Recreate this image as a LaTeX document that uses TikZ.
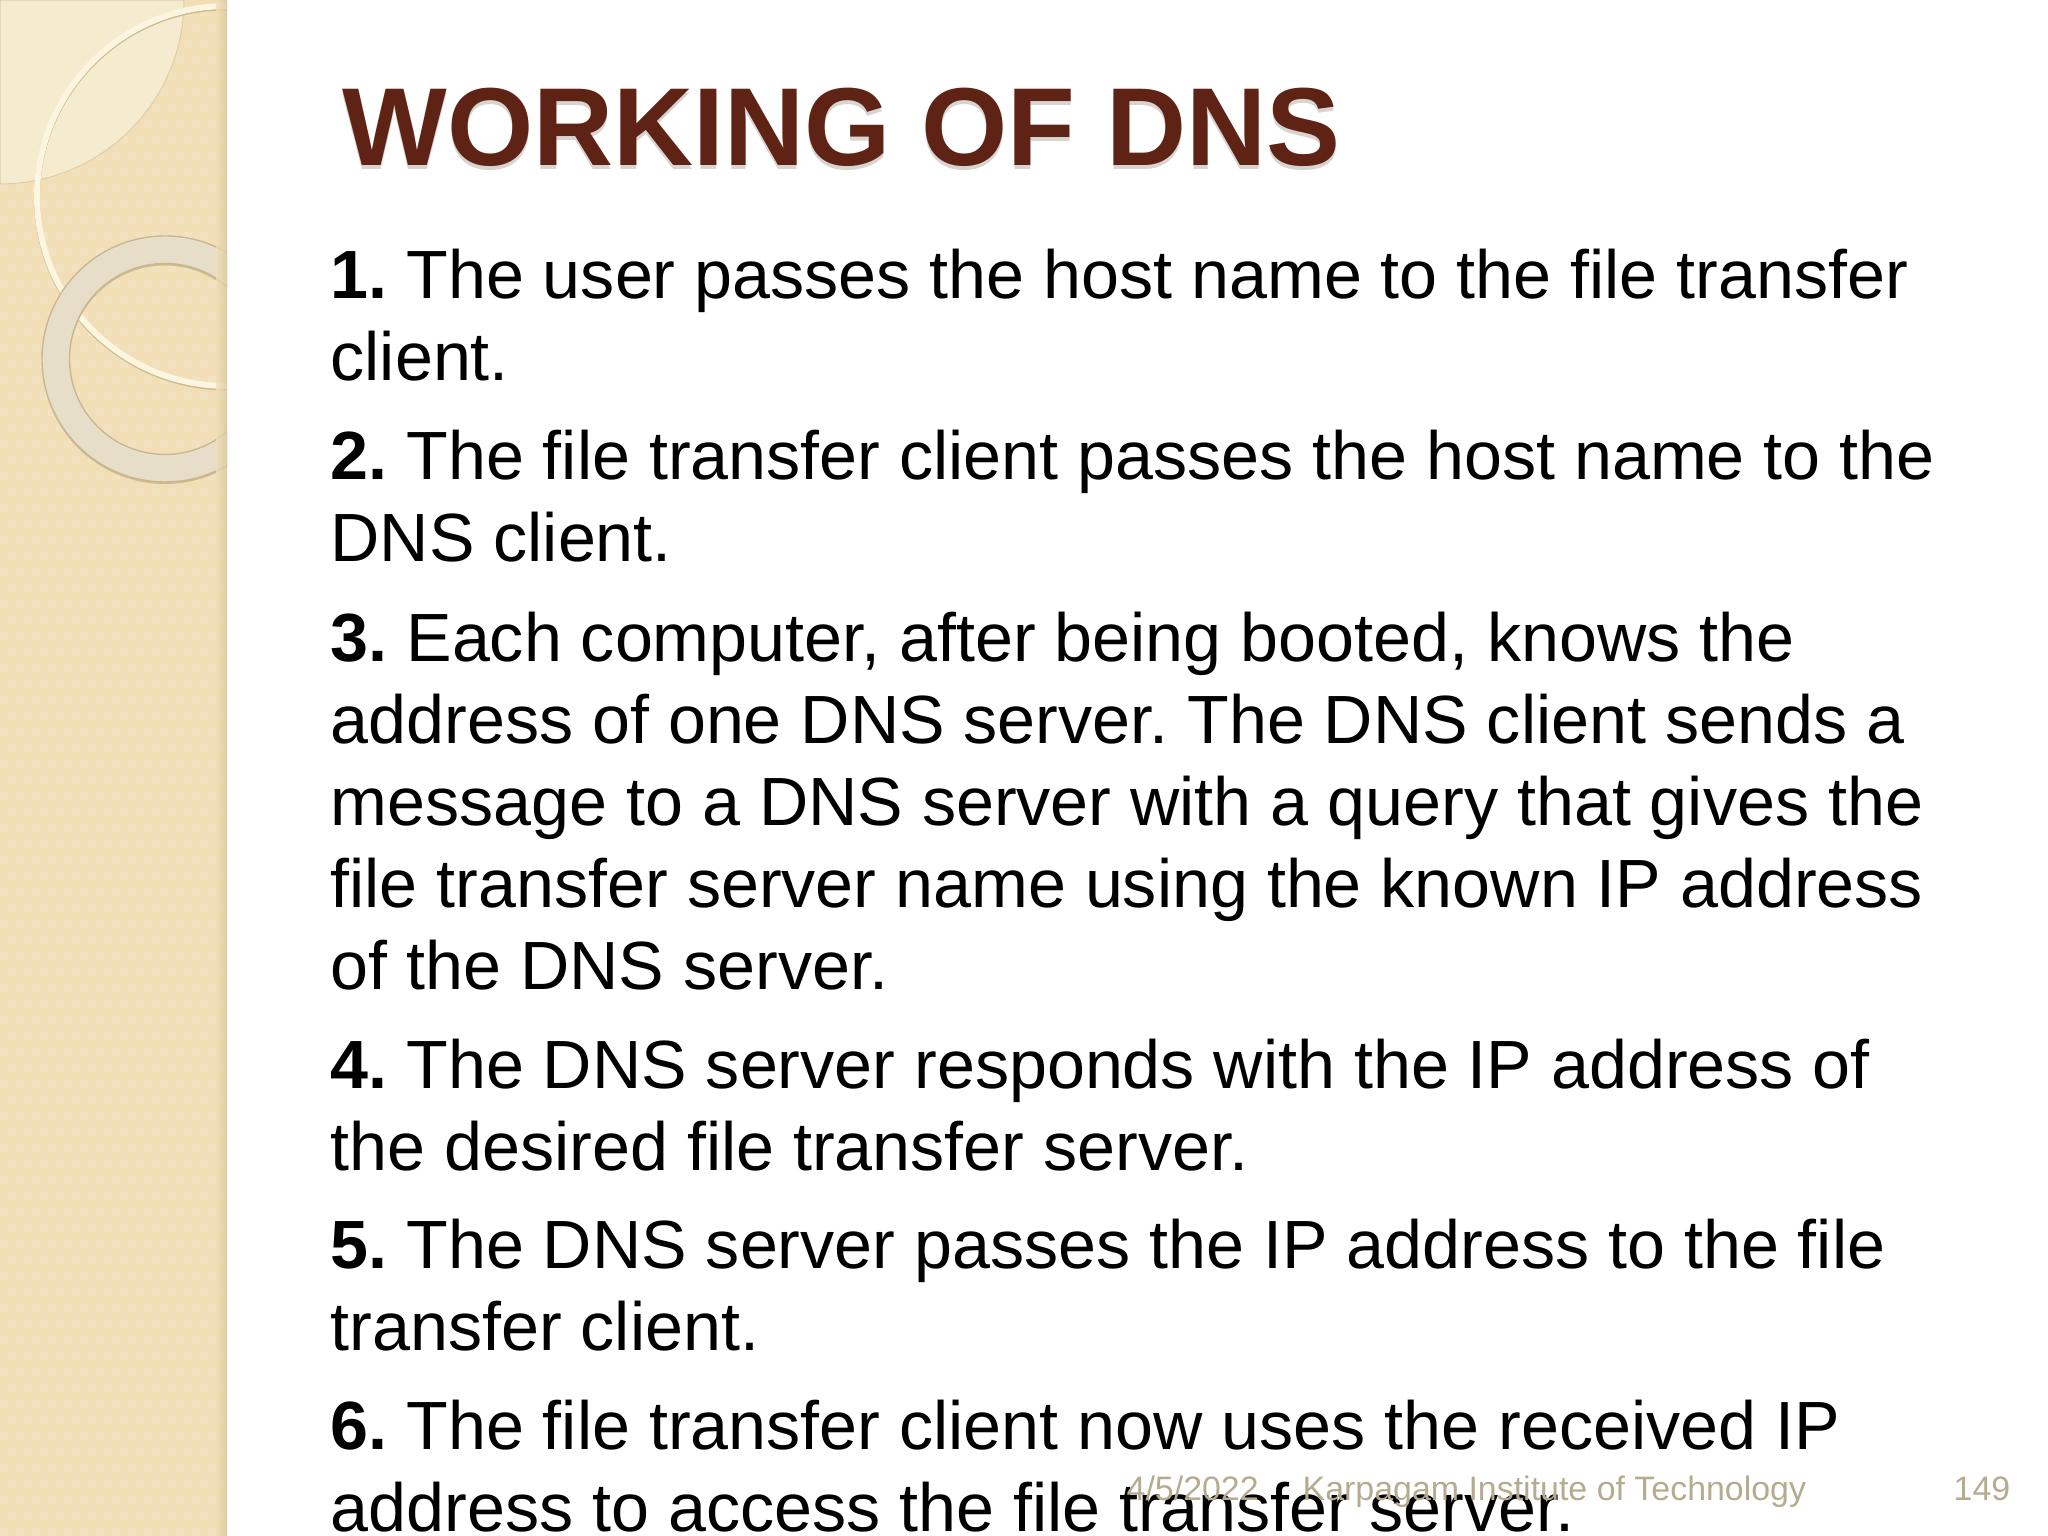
\documentclass[tikz,border=0pt]{standalone}
\usepackage{fontspec}
\setmainfont{Liberation Sans}
\frenchspacing
\definecolor{sidefill}{HTML}{F1DEB7}
\definecolor{sidedot}{HTML}{F3E2BF}
\definecolor{sidedark}{HTML}{D9C99F}
\definecolor{cornerfill}{HTML}{F5EBCF}
\definecolor{cornerline}{HTML}{E0CFA5}
\definecolor{thinring}{HTML}{FCF5E0}
\definecolor{thickring}{HTML}{E9E2CF}
\definecolor{ringline}{HTML}{C9B88F}
\definecolor{ringshade}{HTML}{CDBB8F}
\definecolor{titlecol}{HTML}{5E2314}
\definecolor{titleshade}{HTML}{D8D4D0}
\definecolor{footcol}{HTML}{B5AC8F}
\tikzset{
  para/.style={anchor=base west, inner sep=0pt, align=left, text=black,
    font=\fontsize{19.41pt}{23.33pt}\selectfont},
  foot/.style={anchor=base west, inner sep=0pt, text=footcol,
    font=\fontsize{9.65pt}{11pt}\selectfont},
  titletext/.style={anchor=base west, inner sep=0pt,
    font=\fontsize{31.55pt}{36pt}\selectfont\bfseries}
}
\begin{document}
\begin{tikzpicture}[x=1cm, y=1cm]
\useasboundingbox (0, 0) rectangle (20.48, 15.36);

% side band
\begin{scope}
\clip (0, 0) rectangle (2.27, 15.36);
\fill[sidefill] (0, 0) rectangle (2.27, 15.36);
\foreach \i in {0, ..., 27} {
  \foreach \j in {0, ..., 95} {
    \pgfmathtruncatemacro{\k}{mod(\i + \j, 2)}
    \ifnum\k=0
      \fill[sidedot] (\i * 0.08, \j * 0.16) rectangle ++(0.08, 0.08);
    \fi
  }
}
\fill[cornerfill, draw=cornerline, line width=0.3pt] (0, 15.36) -- (1.84, 15.36)
  arc[start angle=0, end angle=-90, radius=1.84] -- cycle;
\draw[ringshade, line width=1.7pt] (2.27, 13.385) circle (1.90);
\draw[thinring, line width=1.7pt] (2.27, 13.40) circle (1.90);
\fill[ringshade, even odd rule]
  (1.65, 11.75) circle (1.23) (1.65, 11.75) circle (0.955);
\fill[thickring, draw=ringline, line width=0.4pt, even odd rule, fill opacity=0.92]
  (1.65, 11.77) circle (1.23) (1.65, 11.77) circle (0.955);
\shade[left color=sidefill, right color=sidedark, opacity=0.8] (2.16, 0) rectangle (2.27, 15.36);
\end{scope}

% title
\node[titletext, text=titleshade] at (3.42, 13.665) {WORKING OF DNS};
\node[titletext, text=titlecol] (title) at (3.42, 13.70) {WORKING OF DNS};

% body
\node[para] (p1) at (3.30, 11.55) {\textbf{1.} The user passes the host name to the file transfer\\client.};
\node[para] (p2) at (3.30, 9.74) {\textbf{2.} The file transfer client passes the host name to the\\DNS client.};
\node[para] (p3) at (3.30, 5.46) {\textbf{3.} Each computer, after being booted, knows the\\address of one DNS server. The DNS client sends a\\message to a DNS server with a query that gives the\\file transfer server name using the known IP address\\of the DNS server.};
\node[para] (p4) at (3.30, 3.65) {\textbf{4.} The DNS server responds with the IP address of\\the desired file transfer server.};
\node[para] (p5) at (3.30, 1.85) {\textbf{5.} The DNS server passes the IP address to the file\\transfer client.};
\node[para] (p6) at (3.30, 0.04) {\textbf{6.} The file transfer client now uses the received IP\\address to access the file transfer server.};

% footer
\node[foot] (date) at (11.26, 0.35) {4/5/2022};
\node[foot] (inst) at (13.02, 0.35) {Karpagam Institute of Technology};
\node[foot] (page) at (19.53, 0.35) {149};
\end{tikzpicture}
\end{document}
